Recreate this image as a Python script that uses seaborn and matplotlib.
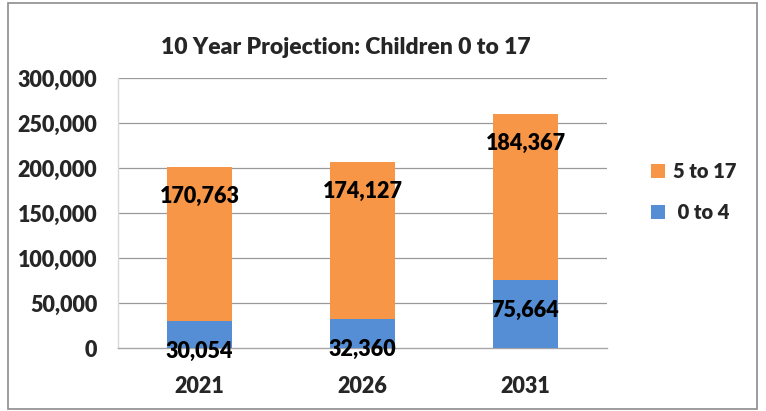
import matplotlib
matplotlib.use("Agg")
import matplotlib.pyplot as plt
from matplotlib.patches import Rectangle, Patch
import seaborn as sns
import pandas as pd

years = ["2021", "2026", "2031"]
age_0_4 = [30054, 32360, 75664]
age_5_17 = [170763, 174127, 184367]
y_ticks = [0, 50000, 100000, 150000, 200000, 250000, 300000]

ORANGE = "#F79646"
BLUE = "#558ED5"
FONT = ["Lato", "DejaVu Sans"]
WEIGHT = "heavy"

sns.set_theme(style="white")
plt.rcParams["font.family"] = FONT
plt.rcParams["font.weight"] = WEIGHT

totals = [a + b for a, b in zip(age_0_4, age_5_17)]
df = pd.DataFrame({"year": years, "young": age_0_4, "older": age_5_17, "total": totals})

fig = plt.figure(figsize=(7.66, 4.11), dpi=100)
ax = fig.add_axes([118 / 766, 1 - 348 / 411, (607 - 118) / 766, (348 - 78) / 411])

# stacked bars: full height in orange, lower segment in blue on top of it
sns.barplot(data=df, x="year", y="total", color=ORANGE, width=0.4,
            saturation=1, ax=ax, edgecolor="none", zorder=2)
sns.barplot(data=df, x="year", y="young", color=BLUE, width=0.4,
            saturation=1, ax=ax, edgecolor="none", zorder=3)

ax.set_ylim(0, 300000)
ax.set_xlim(-0.5, 2.5)
ax.set_yticks(y_ticks)
ax.set_yticklabels([f"{v:,}" for v in y_ticks], fontsize=15.5, fontweight=WEIGHT)
ax.set_xticklabels(years, fontsize=15.5, fontweight=WEIGHT)
ax.set_xlabel("")
ax.set_ylabel("")
ax.tick_params(axis="y", length=0, pad=15)
ax.tick_params(axis="x", length=0, pad=20)
for v in y_ticks[1:]:
    ax.axhline(v, color="#999999", lw=0.9, zorder=1)
for s in ["top", "right"]:
    ax.spines[s].set_visible(False)
ax.spines["left"].set_color("#D9D9D9")
ax.spines["left"].set_linewidth(1.0)
ax.spines["bottom"].set_color("#A6A6A6")
ax.spines["bottom"].set_linewidth(1.0)

# value labels just inside the top of each segment
for i in range(len(years)):
    ax.annotate(f"{age_5_17[i]:,}", (i, totals[i]), xytext=(0, -21),
                textcoords="offset points", ha="center", va="center",
                fontsize=15.5, fontweight=WEIGHT, color="black", zorder=5)
    ax.annotate(f"{age_0_4[i]:,}", (i, age_0_4[i]), xytext=(0, -22),
                textcoords="offset points", ha="center", va="center",
                fontsize=15.5, fontweight=WEIGHT, color="black", zorder=5,
                annotation_clip=False)

fig.text(346 / 766, 1 - 47 / 411, "10 Year Projection: Children 0 to 17",
         ha="center", va="center", fontsize=16.5, fontweight=WEIGHT)

handles = [Patch(facecolor=ORANGE, edgecolor="none", label="5 to 17"),
           Patch(facecolor=BLUE, edgecolor="none", label=" 0 to 4")]
fig.legend(handles=handles, loc="center left",
           bbox_to_anchor=(633 / 766, 1 - 192 / 411), frameon=False,
           prop={"family": FONT, "weight": WEIGHT, "size": 14.5},
           handlelength=0.7, handleheight=0.7, handletextpad=0.4,
           labelspacing=1.1)

fig.patches.append(Rectangle((8 / 766, 2 / 411), 749 / 766, 406 / 411,
                             transform=fig.transFigure, fill=False,
                             edgecolor="#8C8C8C", lw=1.2))

fig.savefig("out.png", dpi=100)
